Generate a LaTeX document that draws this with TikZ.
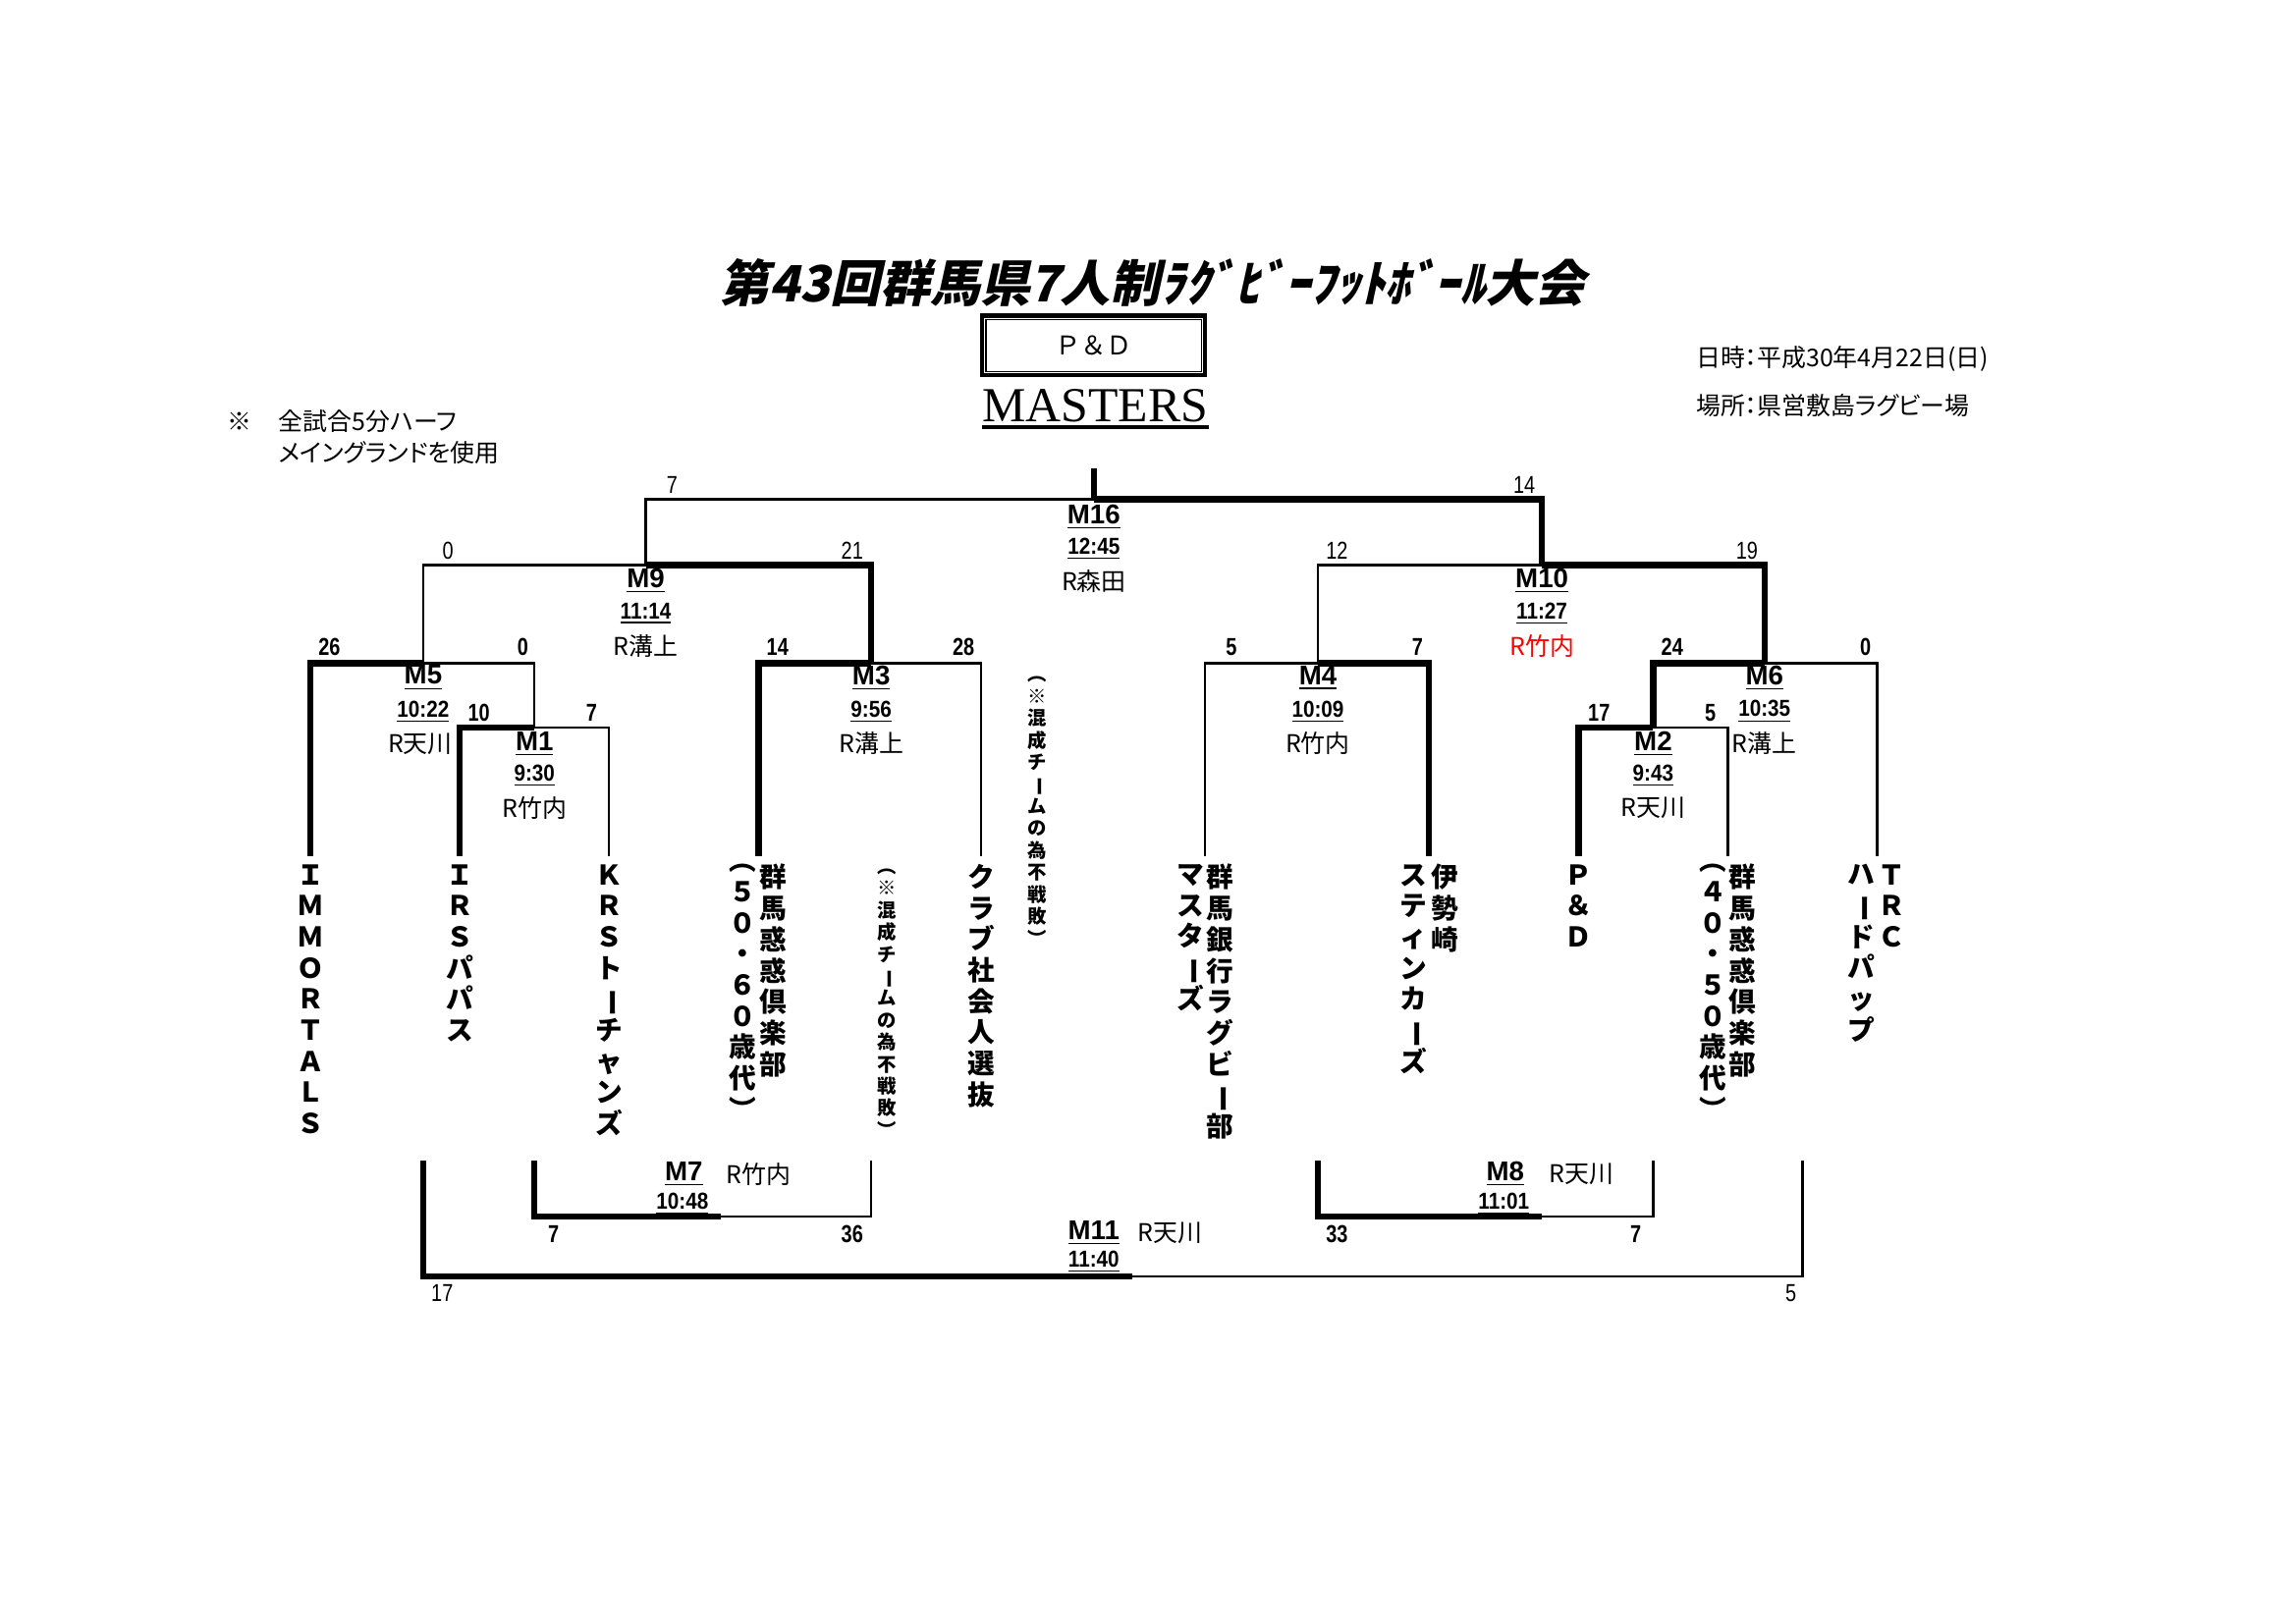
\documentclass[tikz,border=0pt]{standalone}
\usepackage{fontspec}
\usepackage{graphicx}
\setmainfont{Noto Sans CJK JP}
\newfontfamily\narrowfont[FakeStretch=0.8]{Liberation Sans}
\newfontfamily\timefont[FakeStretch=0.88]{Liberation Sans}
\newfontfamily\labelfont{Liberation Sans}
\newfontfamily\mastersfont{Liberation Serif}
\newfontfamily\titlefont[FakeSlant=0.22]{Noto Sans CJK JP}
\newfontfamily\propfont[RawFeature=+palt]{Noto Sans CJK JP}
\newcommand{\tbar}{\rotatebox[origin=c]{-90}{ー}}
\usetikzlibrary{positioning}

\begin{document}
\begin{tikzpicture}[x=0.018941cm, y=-0.018941cm,
        thinline/.style={line width=0.8pt},
        score/.style={font=\narrowfont\fontsize{9}{10}\selectfont, inner sep=0pt},
        bscore/.style={font=\narrowfont\bfseries\fontsize{9}{10}\selectfont, inner sep=0pt},
        mlabel/.style={font=\labelfont\bfseries\fontsize{10}{11}\selectfont, inner sep=0pt},
        mtime/.style={font=\timefont\bfseries\fontsize{8.5}{9}\selectfont, inner sep=0pt},
        referee/.style={font=\fontsize{9}{10}\selectfont, inner sep=0pt},
        team/.style={anchor=north, align=center, inner sep=0pt, font=\bfseries\fontsize{10}{11.45}\selectfont},
        smallnote/.style={anchor=north, align=center, inner sep=0pt, font=\bfseries\fontsize{7}{8.1}\selectfont},
        info/.style={anchor=west, inner sep=0pt, font=\propfont\fontsize{9}{10}\selectfont},
    ]
    \tikzstyle{winline}=[line width=2.3pt]
    \useasboundingbox (0,0) rectangle (1568,1109);

    % heading
    \node[font=\titlefont\bfseries\fontsize{18.4}{22}\selectfont, inner sep=0pt] (title) at (787,193)
        {第43回群馬県7人制ﾗｸﾞﾋﾞｰﾌｯﾄﾎﾞｰﾙ大会};
    \node[draw, line width=1.5pt, minimum width=82pt, minimum height=22pt, inner sep=0pt,
          font=\fontsize{9.5}{10}\selectfont] (pd) at (747,236) {Ｐ＆Ｄ};
    \draw[line width=0.6pt] ([shift={(4,4)}]pd.north west) rectangle ([shift={(-4,-4)}]pd.south east);
    \node[font=\mastersfont\fontsize{18}{20}\selectfont, inner sep=0pt] (masters) at (748,277) {MASTERS};
    \draw[line width=1.3pt] ([yshift=-2pt]masters.base west) -- ([yshift=-2pt]masters.base east);
    \node[info] (date) at (1158,245) {日時：平成30年4月22日(日)};
    \node[info] (place) at (1158,277) {場所：県営敷島ラグビー場};
    \node[info] (kome) at (155,288) {※};
    \node[info] (rule1) at (190,288) {全試合5分ハーフ};
    \node[info] (rule2) at (190,309) {メイングランドを使用};

    % bracket points
    \coordinate (top) at (747,320);
    \coordinate (m16) at (747,341);
    \coordinate (m9) at (441,386);
    \coordinate (m10) at (1053,386);
    \coordinate (m5) at (289,453);
    \coordinate (m3) at (595,453);
    \coordinate (m4) at (900,453);
    \coordinate (m6) at (1205,453);
    \coordinate (m1) at (365,497);
    \coordinate (m2) at (1129,497);
    \foreach \n/\x in {1/212,2/314,3/416,4/518,6/670,8/823,9/976,10/1078,11/1180,12/1282}
        \coordinate (t\n) at (\x,585);

    \draw[winline] (top) -- (m16);
    \draw[thinline] (m9) |- (m16);
    \draw[winline] (m16) -| (m10);
    \draw[thinline] (m5) |- (m9);
    \draw[winline] (m9) -| (m3);
    \draw[thinline] (m4) |- (m10);
    \draw[winline] (m10) -| (m6);
    \draw[winline] (t1) |- (m5);
    \draw[thinline] (m5) -| (m1);
    \draw[winline] (t2) |- (m1);
    \draw[thinline] (m1) -| (t3);
    \draw[winline] (t4) |- (m3);
    \draw[thinline] (m3) -| (t6);
    \draw[thinline] (t8) |- (m4);
    \draw[winline] (m4) -| (t9);
    \draw[winline] (m2) |- (m6);
    \draw[thinline] (m6) -| (t12);
    \draw[winline] (t10) |- (m2);
    \draw[thinline] (m2) -| (t11);

    % scores
    \node[score] (s16a) at (459,331) {7};
    \node[score] (s16b) at (1041,331) {14};
    \node[score] (s9a) at (306,376) {0};
    \node[score] (s9b) at (582,376) {21};
    \node[score] (s10a) at (913,376) {12};
    \node[score] (s10b) at (1193,376) {19};
    \node[bscore] (s5a) at (225,442) {26};
    \node[bscore] (s5b) at (357,442) {0};
    \node[bscore] (s3a) at (531,442) {14};
    \node[bscore] (s3b) at (658,442) {28};
    \node[bscore] (s4a) at (841,442) {5};
    \node[bscore] (s4b) at (968,442) {7};
    \node[bscore] (s6a) at (1142,442) {24};
    \node[bscore] (s6b) at (1274,442) {0};
    \node[bscore] (s1a) at (327,487) {10};
    \node[bscore] (s1b) at (404,487) {7};
    \node[bscore] (s2a) at (1092,487) {17};
    \node[bscore] (s2b) at (1168,487) {5};

    % match labels
    \node[mlabel] (l16) at (747,353) {\underline{M16}};
    \node[mtime] (h16) at (747,375) {\underline{12:45}};
    \node[referee] (r16) at (747,397) {R森田};
    \node[mlabel] (l9) at (441,397) {\underline{M9}};
    \node[mtime] (h9) at (441,419) {\underline{11:14}};
    \node[referee] (r9) at (441,441) {R溝上};
    \node[mlabel] (l10) at (1053,397) {\underline{M10}};
    \node[mtime] (h10) at (1053,419) {\underline{11:27}};
    \node[referee, text=red] (r10) at (1053,441) {R竹内};
    \node[mlabel] (l5) at (289,463) {\underline{M5}};
    \node[mtime] (h5) at (289,486) {\underline{10:22}};
    \node[referee] (r5) at (287,508) {R天川};
    \node[mlabel] (l1) at (365,508) {\underline{M1}};
    \node[mtime] (h1) at (365,530) {\underline{9:30}};
    \node[referee] (r1) at (365,552) {R竹内};
    \node[mlabel] (l3) at (595,463) {\underline{M3}};
    \node[mtime] (h3) at (595,486) {\underline{9:56}};
    \node[referee] (r3) at (595,508) {R溝上};
    \node[mlabel] (l4) at (900,463) {\underline{M4}};
    \node[mtime] (h4) at (900,486) {\underline{10:09}};
    \node[referee] (r4) at (900,508) {R竹内};
    \node[mlabel] (l6) at (1205,463) {\underline{M6}};
    \node[mtime] (h6) at (1205,486) {\underline{10:35}};
    \node[referee] (r6) at (1205,508) {R溝上};
    \node[mlabel] (l2) at (1129,508) {\underline{M2}};
    \node[mtime] (h2) at (1129,530) {\underline{9:43}};
    \node[referee] (r2) at (1129,552) {R天川};

    % teams
    \node[team] (n1) at (212,590) {Ｉ\\Ｍ\\Ｍ\\Ｏ\\Ｒ\\Ｔ\\Ａ\\Ｌ\\Ｓ};
    \node[team] (n2) at (314,590) {Ｉ\\Ｒ\\Ｓ\\パ\\パ\\ス};
    \node[team] (n3) at (416,590) {Ｋ\\Ｒ\\Ｓ\\ト\\\tbar\\チ\\ャ\\ン\\ズ};
    \node[team] (n4a) at (528,590) {群\\馬\\惑\\惑\\倶\\楽\\部};
    \node[team] (n4b) at (507,590) {︵\\５\\０\\・\\６\\０\\歳\\代\\︶};
    \node[smallnote] (n5) at (606,593) {︵\\※\\混\\成\\チ\\\tbar\\ム\\の\\為\\不\\戦\\敗\\︶};
    \node[team] (n6) at (670,590) {ク\\ラ\\ブ\\社\\会\\人\\選\\抜};
    \node[smallnote] (n7) at (708,462) {︵\\※\\混\\成\\チ\\\tbar\\ム\\の\\為\\不\\戦\\敗\\︶};
    \node[team] (n8a) at (833,590) {群\\馬\\銀\\行\\ラ\\グ\\ビ\\\tbar\\部};
    \node[team] (n8b) at (813,590) {マ\\ス\\タ\\\tbar\\ズ};
    \node[team] (n9a) at (987,590) {伊\\勢\\崎};
    \node[team] (n9b) at (965,590) {ス\\テ\\ィ\\ン\\カ\\\tbar\\ズ};
    \node[team] (n10) at (1078,590) {Ｐ\\＆\\Ｄ};
    \node[team] (n11a) at (1190,590) {群\\馬\\惑\\惑\\倶\\楽\\部};
    \node[team] (n11b) at (1170,590) {︵\\４\\０\\・\\５\\０\\歳\\代\\︶};
    \node[team] (n12a) at (1292,590) {Ｔ\\Ｒ\\Ｃ};
    \node[team] (n12b) at (1271,590) {ハ\\\tbar\\ド\\パ\\ッ\\プ};

    % lower matches
    \coordinate (b7l) at (365,793);
    \coordinate (b7r) at (595,793);
    \coordinate (m7) at (492,831);
    \coordinate (b8l) at (900,793);
    \coordinate (b8r) at (1129,793);
    \coordinate (m8) at (1053,831);
    \coordinate (b11l) at (289,793);
    \coordinate (b11r) at (1231,793);
    \coordinate (m11) at (773,872);
    \draw[winline] (b7l) |- (m7);
    \draw[thinline] (m7) -| (b7r);
    \draw[winline] (b8l) |- (m8);
    \draw[thinline] (m8) -| (b8r);
    \draw[winline] (b11l) |- (m11);
    \draw[thinline] (m11) -| (b11r);

    \node[mlabel] (l7) at (467,802) {\underline{M7}};
    \node[referee] (r7) at (518,802) {R竹内};
    \node[mtime] (h7) at (466,822) {\underline{10:48}};
    \node[mlabel] (l8) at (1028,802) {\underline{M8}};
    \node[referee] (r8) at (1080,802) {R天川};
    \node[mtime] (h8) at (1027,822) {\underline{11:01}};
    \node[mlabel] (l11) at (747,842) {\underline{M11}};
    \node[referee] (r11) at (799,842) {R天川};
    \node[mtime] (h11) at (747,862) {\underline{11:40}};
    \node[bscore] (s7a) at (378,843) {7};
    \node[bscore] (s7b) at (582,843) {36};
    \node[bscore] (s8a) at (913,843) {33};
    \node[bscore] (s8b) at (1117,843) {7};
    \node[score] (s11a) at (302,883) {17};
    \node[score] (s11b) at (1223,883) {5};
\end{tikzpicture}
\end{document}
